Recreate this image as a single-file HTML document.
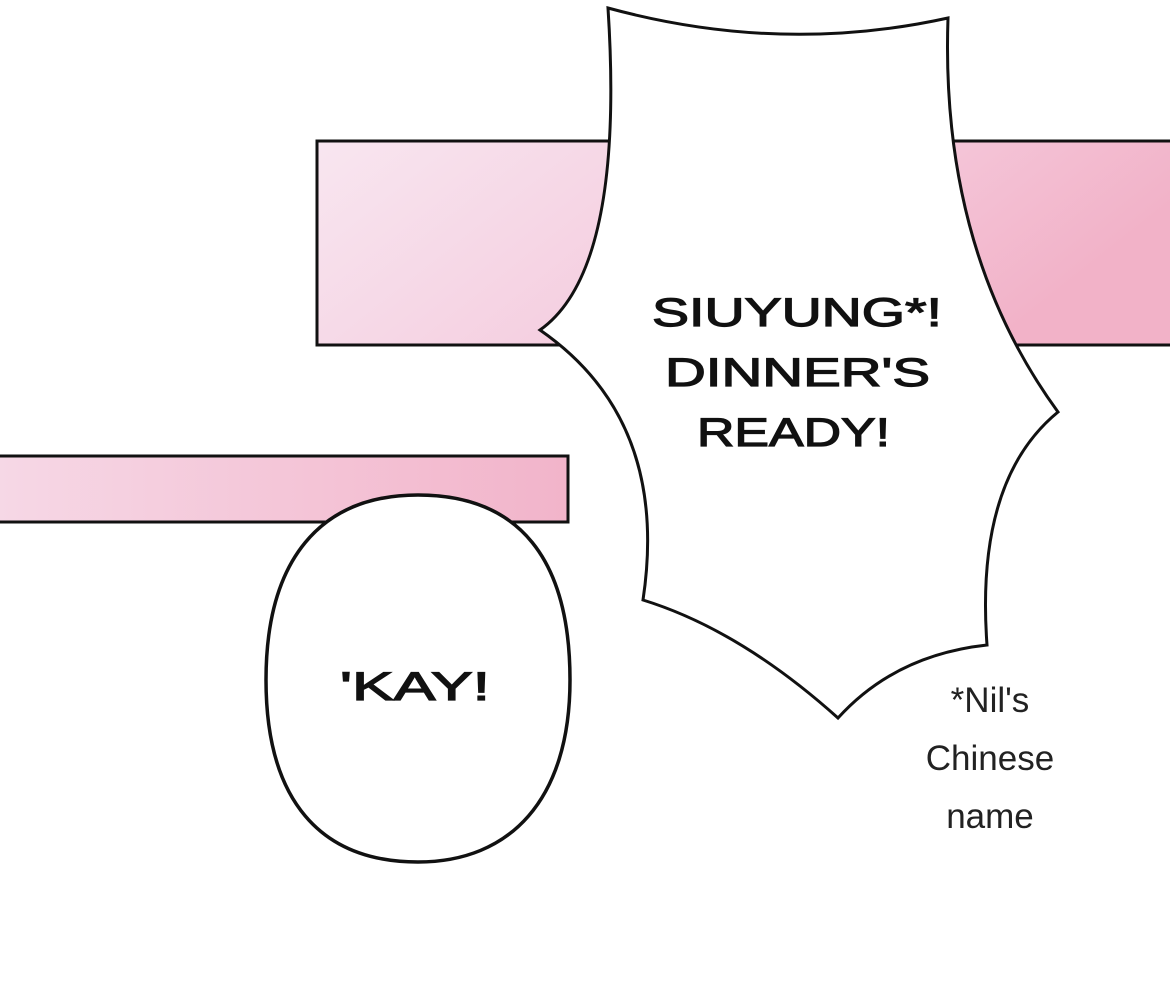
<!DOCTYPE html>
<html><head><meta charset="utf-8"><style>
html,body{margin:0;padding:0;background:#fff;}
svg{display:block}
</style></head><body>
<svg width="1170" height="989" viewBox="0 0 1170 989" xmlns="http://www.w3.org/2000/svg">
<defs>
<linearGradient id="g1" x1="0" y1="0" x2="1" y2="0.3">
<stop offset="0" stop-color="#f8e6f0"/><stop offset="0.5" stop-color="#f5d0e1"/><stop offset="1" stop-color="#f2b2c8"/>
</linearGradient>
<linearGradient id="g2" x1="0" y1="0" x2="1" y2="0">
<stop offset="0" stop-color="#f6d8e6"/><stop offset="1" stop-color="#f2b4ca"/>
</linearGradient>
</defs>
<rect x="317" y="141" width="860" height="204" fill="url(#g1)" stroke="#111" stroke-width="3"/>
<rect x="-5" y="456" width="573" height="66" fill="url(#g2)" stroke="#111" stroke-width="3"/>
<path d="M608,8 Q780,55 948,18 Q940,250 1058,412 Q975,480 987,645 Q895,655 838,718 Q740,630 643,600 Q670,420 540,330 Q625,270 608,8 Z" fill="#fff" stroke="#111" stroke-width="3"/>
<path d="M418,495 C520,495 570,560 570,680 C570,800 510,862 418,862 C320,862 266,800 266,680 C266,560 320,495 418,495 Z" fill="#fff" stroke="#111" stroke-width="3.5"/>
<g font-family="Liberation Sans, sans-serif" font-size="40" fill="#111" stroke="#111" stroke-width="1.2">
<text x="652" y="326" textLength="290" lengthAdjust="spacingAndGlyphs">SIUYUNG*!</text>
<text x="665" y="386" textLength="265" lengthAdjust="spacingAndGlyphs">DINNER'S</text>
<text x="697" y="446" textLength="193" lengthAdjust="spacingAndGlyphs">READY!</text>
<text x="340" y="700" textLength="150" lengthAdjust="spacingAndGlyphs">'KAY!</text>
</g>
<g font-family="Liberation Sans, sans-serif" font-size="35" text-anchor="middle" fill="#222">
<text x="990" y="712">*Nil's</text>
<text x="990" y="770">Chinese</text>
<text x="990" y="828">name</text>
</g>
</svg>
</body></html>
